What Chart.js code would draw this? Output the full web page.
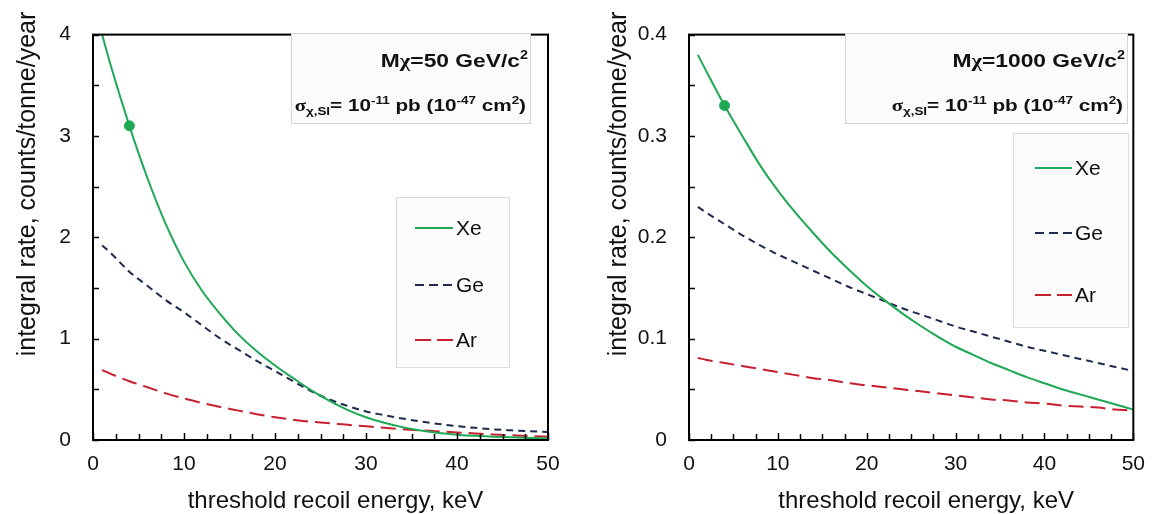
<!DOCTYPE html>
<html>
<head>
<meta charset="utf-8">
<script src="https://cdn.jsdelivr.net/npm/chart.js@4.4.1/dist/chart.umd.min.js"></script>
<style>
  html, body { margin: 0; padding: 0; background: #fff; }
  #wrap { position: relative; width: 1157px; height: 514px; overflow: hidden; }
  canvas { position: absolute; top: 0; }
  #cLeft { left: 0; }
  #cRight { left: 580px; }
</style>
</head>
<body>
<div id="wrap">
  <canvas id="cLeft" width="578" height="514"></canvas>
  <canvas id="cRight" width="577" height="514"></canvas>
</div>
<script>
// threshold energies, keV
const energies = [1, 2, 4, 6, 8, 10, 12, 14, 16, 18, 20, 22, 24, 26, 28, 30, 32, 34, 36, 38, 40, 42, 44, 46, 48, 50];

// M = 50 GeV/c2
const xe50 = [4.0, 3.68, 3.1, 2.58, 2.13, 1.76, 1.47, 1.24, 1.04, 0.875, 0.735, 0.61, 0.49, 0.385, 0.295, 0.225, 0.17, 0.127, 0.094, 0.07, 0.053, 0.041, 0.033, 0.026, 0.02, 0.016];
const ge50 = [1.92, 1.84, 1.66, 1.52, 1.38, 1.26, 1.13, 1.0, 0.89, 0.78, 0.68, 0.58, 0.48, 0.40, 0.335, 0.282, 0.245, 0.212, 0.183, 0.158, 0.137, 0.12, 0.105, 0.095, 0.086, 0.078];
const ar50 = [0.69, 0.65, 0.58, 0.52, 0.46, 0.41, 0.365, 0.325, 0.29, 0.255, 0.225, 0.20, 0.18, 0.165, 0.15, 0.135, 0.12, 0.107, 0.095, 0.085, 0.075, 0.065, 0.055, 0.047, 0.039, 0.032];

// M = 1000 GeV/c2
const xe1000 = [0.38, 0.363, 0.33, 0.30, 0.271, 0.246, 0.224, 0.204, 0.185, 0.168, 0.152, 0.138, 0.125, 0.113, 0.102, 0.092, 0.084, 0.076, 0.069, 0.062, 0.056, 0.05, 0.045, 0.04, 0.035, 0.03];
const ge1000 = [0.23, 0.224, 0.213, 0.202, 0.192, 0.183, 0.175, 0.167, 0.159, 0.151, 0.144, 0.137, 0.13, 0.124, 0.118, 0.112, 0.107, 0.102, 0.097, 0.092, 0.088, 0.084, 0.08, 0.076, 0.072, 0.068];
const ar1000 = [0.081, 0.079, 0.076, 0.073, 0.070, 0.067, 0.064, 0.061, 0.059, 0.056, 0.054, 0.052, 0.050, 0.048, 0.046, 0.044, 0.042, 0.040, 0.039, 0.037, 0.036, 0.034, 0.033, 0.032, 0.030, 0.029];

// highlighted Xe point
const markerE = 4;
const marker50 = 3.1;
const marker1000 = 0.33;

const seriesNames = ['Xe', 'Ge', 'Ar'];
const massLabels = ['50', '1000'];
const xTitle = 'threshold recoil energy, keV';
const yTitle = 'integral rate, counts/tonne/year';

const FONT = "'Liberation Sans', Arial, sans-serif";
const SERIF = "'Liberation Serif', serif";
const colXe = '#1fa855';
const colGe = '#1e2b4d';
const colAr = '#c81f30';
// dash used for the short legend samples
const legendDash = [[], [9, 5], [16, 6]];

const toXY = arr => arr.map((v, i) => ({ x: energies[i], y: v }));

const lineDs = (label, arr, color, dash) => ({
  label,
  data: toXY(arr),
  borderColor: color,
  borderWidth: 2,
  borderDash: dash,
  pointRadius: 0,
  fill: false,
  cubicInterpolationMode: 'monotone'
});

// text with sub/superscripts, right aligned, stretched horizontally by sx
const drawRich = (ctx, parts, xRight, base, size, sx) => {
  const small = Math.round(size * 0.62);
  const fontFor = p => `bold ${p[1] === 'n' ? size : small}px ${p[2] ? p[2] : FONT}`;
  let w = 0;
  parts.forEach(p => { ctx.font = fontFor(p); w += ctx.measureText(p[0]).width; });
  ctx.save();
  ctx.translate(xRight, base);
  ctx.scale(sx, 1);
  let x = -w;
  ctx.textAlign = 'left';
  ctx.textBaseline = 'alphabetic';
  parts.forEach(p => {
    ctx.font = fontFor(p);
    let dy = 0;
    if (p[1] === 'sup') dy = -size * 0.4;
    if (p[1] === 'sub') dy = size * 0.22;
    ctx.fillText(p[0], x, dy);
    x += ctx.measureText(p[0]).width;
  });
  ctx.restore();
};

const framePlugin = {
  id: 'frame',
  afterDatasetsDraw(chart, args, opts) {
    const { ctx, chartArea: a, scales } = chart;
    ctx.save();
    // inward ticks
    ctx.strokeStyle = '#000';
    ctx.lineWidth = 1.5;
    ctx.beginPath();
    for (let i = 0; i <= 20; i++) {
      const x = Math.round(scales.x.getPixelForValue(i * 2.5)) + 0.5;
      const len = i % 4 === 0 ? 7 : 6;
      ctx.moveTo(x, a.bottom);
      ctx.lineTo(x, a.bottom - len);
    }
    const ny = Math.round(opts.yMax / opts.yMinor);
    for (let i = 0; i <= ny; i++) {
      const y = Math.round(scales.y.getPixelForValue(i * opts.yMinor)) + 0.5;
      ctx.moveTo(a.left, y);
      ctx.lineTo(a.left + 6, y);
    }
    ctx.stroke();
    ctx.lineWidth = 2;
    ctx.strokeRect(a.left, a.top, a.right - a.left, a.bottom - a.top);

    // axis titles
    ctx.fillStyle = '#111';
    ctx.font = `24px ${FONT}`;
    ctx.textAlign = 'center';
    ctx.textBaseline = 'middle';
    ctx.fillText(xTitle, (a.left + a.right) / 2 + 15, 501);
    ctx.save();
    ctx.font = `25px ${FONT}`;
    ctx.translate(opts.yTitleX, 184);
    ctx.rotate(-Math.PI / 2);
    ctx.fillText(yTitle, 0, 0);
    ctx.restore();

    // annotation box
    const n = opts.note;
    ctx.fillStyle = '#fbfbfb';
    ctx.fillRect(n.x, n.y, n.w, n.h);
    ctx.strokeStyle = '#d4d4d4';
    ctx.lineWidth = 1;
    ctx.strokeRect(n.x + 0.5, n.y + 0.5, n.w, n.h);
    ctx.fillStyle = '#111';
    drawRich(ctx, [['M', 'n'], ['\u03c7', 'n', SERIF], ['=' + opts.mass + ' GeV/c', 'n'], ['2', 'sup']], n.x + n.w - 2, n.y + 34, 19, 1.2);
    drawRich(ctx, [['\u03c3', 'n', SERIF], ['\u03c7,SI', 'sub'], ['= 10', 'n'], ['-11', 'sup'], [' pb (10', 'n'], ['-47', 'sup'], [' cm', 'n'], ['2', 'sup'], [')', 'n']], n.x + n.w - 4, n.y + 78, 17, 1.22);

    // legend box
    const g = opts.legend;
    ctx.fillStyle = '#fcfcfc';
    ctx.fillRect(g.x, g.y, g.w, g.h);
    ctx.strokeStyle = '#dcdcdc';
    ctx.strokeRect(g.x + 0.5, g.y + 0.5, g.w, g.h);
    chart.data.datasets.slice(0, 3).forEach((ds, i) => {
      const yy = g.rows[i];
      ctx.strokeStyle = ds.borderColor;
      ctx.lineWidth = 2;
      ctx.setLineDash(legendDash[i]);
      ctx.beginPath();
      ctx.moveTo(g.lx0, yy);
      ctx.lineTo(g.lx1, yy);
      ctx.stroke();
      ctx.setLineDash([]);
      ctx.fillStyle = '#111';
      ctx.font = `21px ${FONT}`;
      ctx.textAlign = 'left';
      ctx.textBaseline = 'middle';
      ctx.fillText(seriesNames[i], g.lx1 + 3, yy + 1);
    });
    ctx.restore();
  }
};

const makeChart = (id, xe, ge, ar, mark, cfg) => new Chart(document.getElementById(id), {
  type: 'line',
  data: {
    datasets: [
      lineDs(seriesNames[0], xe, colXe, []),
      lineDs(seriesNames[1], ge, colGe, [7, 5]),
      lineDs(seriesNames[2], ar, colAr, [15, 7]),
      {
        label: 'point',
        data: [{ x: markerE, y: mark }],
        showLine: false,
        pointRadius: 5,
        pointBackgroundColor: colXe,
        pointBorderColor: colXe
      }
    ]
  },
  options: {
    responsive: false,
    animation: false,
    events: [],
    layout: { padding: { left: 0, top: 20, right: cfg.padRight, bottom: 0 } },
    plugins: {
      legend: { display: false },
      tooltip: { enabled: false },
      frame: { yMax: cfg.yMax, yMinor: cfg.yMinor, note: cfg.note, legend: cfg.legend, mass: cfg.mass, yTitleX: cfg.yTitleX }
    },
    scales: {
      x: {
        type: 'linear',
        min: 0, max: 50,
        grid: { display: false, drawTicks: false },
        border: { display: false },
        ticks: { stepSize: 10, padding: 12, color: '#111', font: { family: FONT, size: 21 } },
        afterFit: s => { s.height = 74; }
      },
      y: {
        type: 'linear',
        min: 0, max: cfg.yMax,
        grid: { display: false, drawTicks: false },
        border: { display: false },
        ticks: {
          stepSize: cfg.yStep, padding: 22, color: '#111', font: { family: FONT, size: 21 },
          callback: v => v === 0 ? '0' : (cfg.yStep < 1 ? v.toFixed(1) : String(v))
        },
        afterFit: s => { s.width = cfg.yWidth; }
      }
    }
  },
  plugins: [framePlugin]
});

makeChart('cLeft', xe50, ge50, ar50, marker50, {
  mass: massLabels[0], yMax: 4, yStep: 1, yMinor: 0.5, yWidth: 93, padRight: 30, yTitleX: 28,
  note: { x: 291, y: 33, w: 239, h: 90 },
  legend: { x: 396, y: 197, w: 113, h: 170, rows: [228, 285, 340], lx0: 415, lx1: 453 }
});

makeChart('cRight', xe1000, ge1000, ar1000, marker1000, {
  mass: massLabels[1], yMax: 0.4, yStep: 0.1, yMinor: 0.05, yWidth: 109, padRight: 14, yTitleX: 39,
  note: { x: 265, y: 33, w: 282, h: 90 },
  legend: { x: 433, y: 133, w: 115, h: 194, rows: [168, 233, 295], lx0: 455, lx1: 492 }
});
</script>
</body>
</html>
